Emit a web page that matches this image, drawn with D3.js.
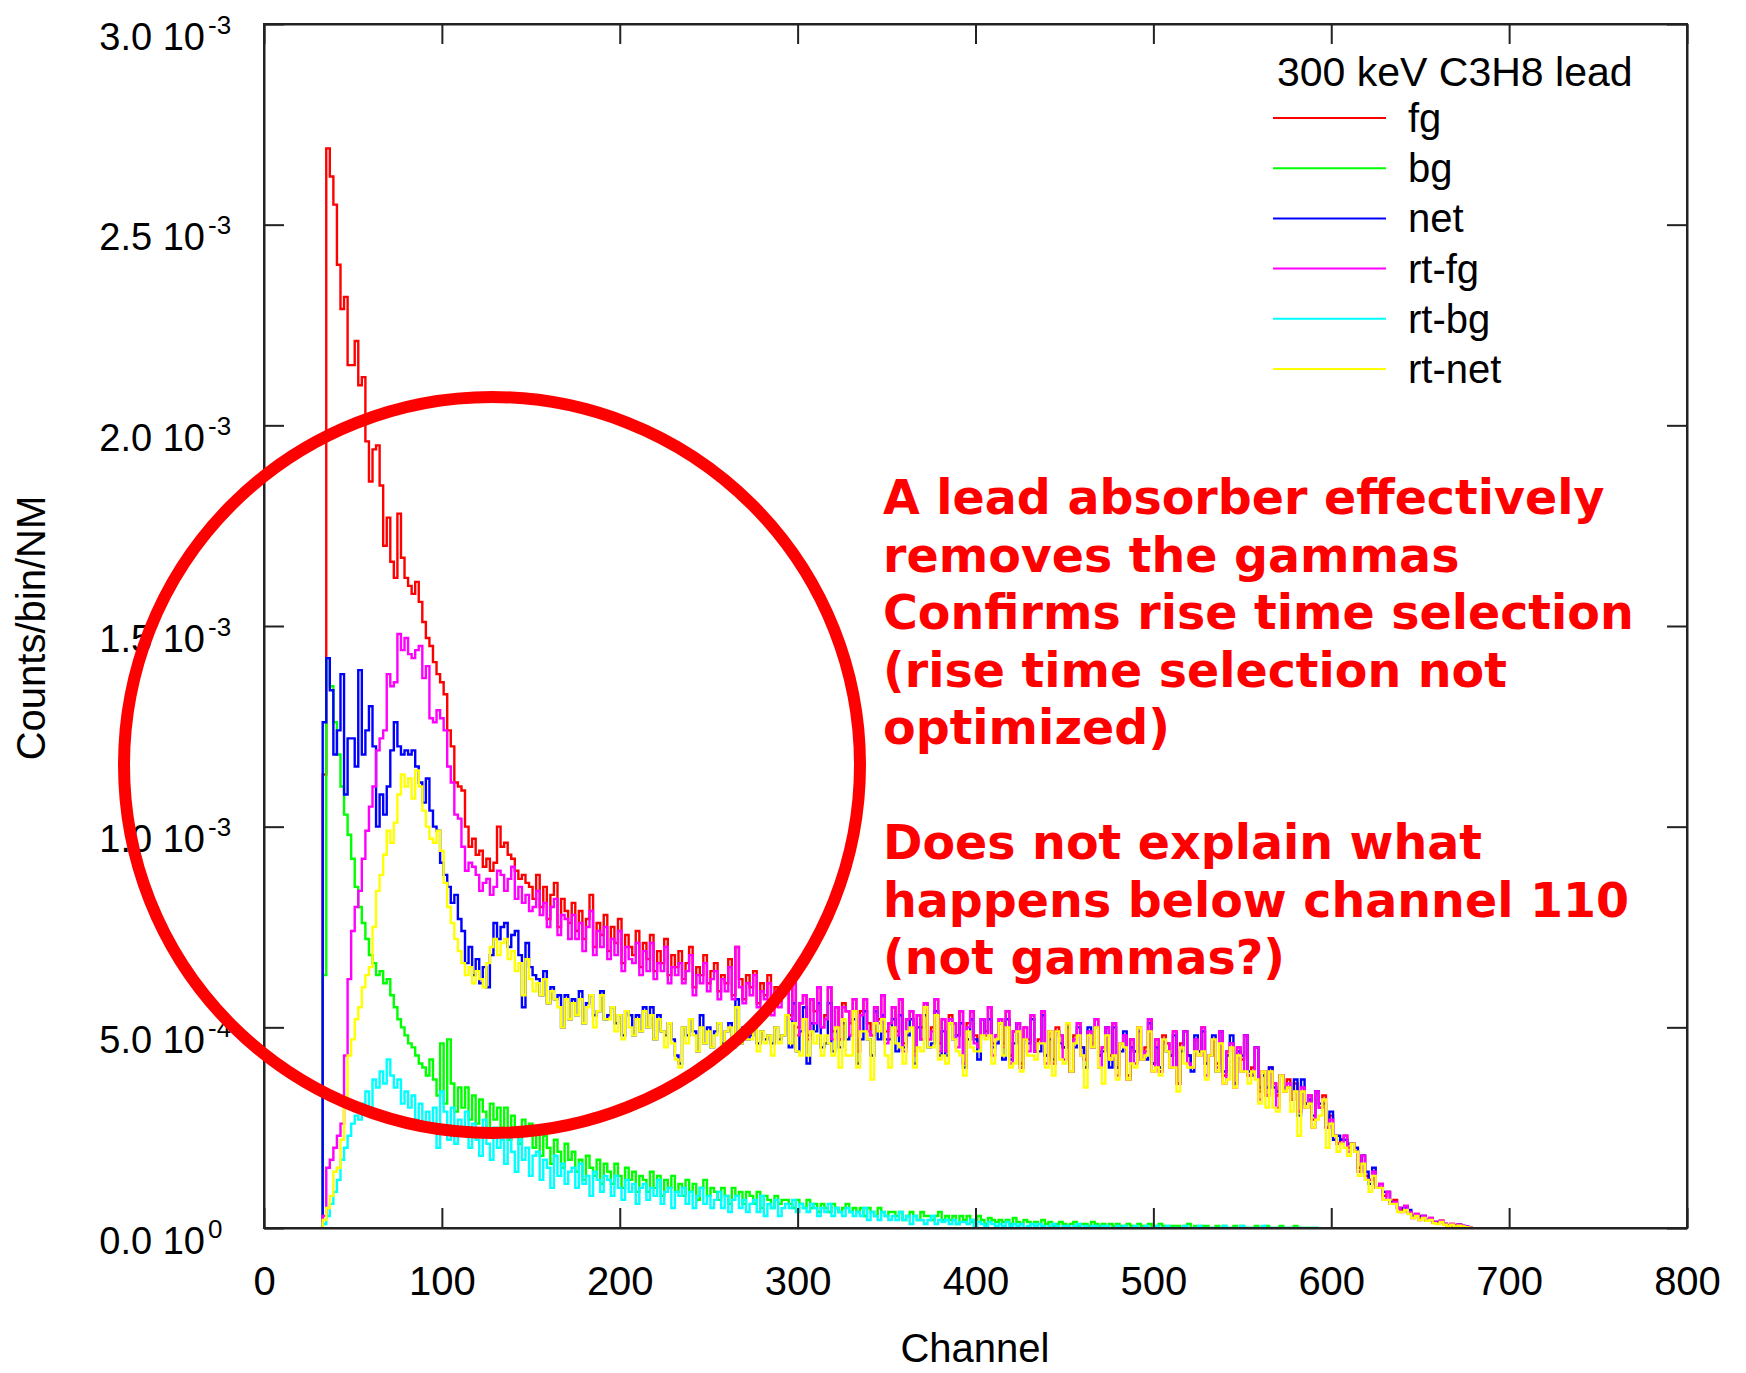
<!DOCTYPE html>
<html>
<head>
<meta charset="utf-8">
<script src="https://cdn.jsdelivr.net/npm/d3@7"></script>
<style>
  body { margin: 0; background: #fff; }
  svg { display: block; }
</style>
</head>
<body>
<div id="chart"></div>
<script>
// Histogram binning (channels) and value unit
const firstChannel = 33;
const binWidth = 2;
const yUnit = 1e-5; // values below are in units of 1e-5 counts/bin/NM

// fg
const fg = [
  113, 269, 262, 255, 240, 229, 232, 215, 215, 221,
  210, 212, 196, 186, 194, 195, 185, 170, 177, 166,
  162, 178, 167, 162, 160, 158, 161, 156, 151, 147,
  145, 141, 138, 136, 133, 124, 120, 111, 110, 109,
  100, 95, 97, 93, 94, 90, 92, 89, 91, 100,
  95, 96, 93, 92, 89, 87, 88, 86, 85, 82,
  88, 80, 85, 77, 83, 86, 75, 82, 79, 76,
  81, 74, 79, 72, 77, 83, 70, 76, 73, 78,
  69, 75, 71, 77, 66, 73, 70, 68, 74, 65,
  71, 67, 73, 64, 69, 66, 72, 63, 68, 65,
  69, 62, 66, 70, 60, 65, 63, 68, 61, 64,
  66, 59, 63, 61, 67, 58, 70, 62, 57, 63,
  60, 64, 56, 61, 58, 63, 55, 60, 57, 59,
  59, 53, 61, 50, 56, 58, 48, 57, 54, 60,
  50, 53, 60, 49, 55, 47, 56, 54, 51, 57,
  44, 54, 57, 51, 48, 55, 52, 58, 49, 51,
  55, 49, 57, 46, 52, 54, 44, 53, 50, 56,
  47, 50, 57, 46, 52, 44, 53, 51, 48, 54,
  41, 51, 54, 48, 45, 52, 49, 55, 46, 48,
  52, 46, 54, 43, 49, 51, 41, 50, 47, 53,
  44, 47, 54, 43, 49, 41, 50, 48, 45, 51,
  39, 48, 51, 45, 42, 49, 46, 52, 43, 45,
  50, 43, 51, 40, 46, 48, 38, 47, 44, 50,
  42, 45, 52, 41, 47, 39, 48, 46, 43, 49,
  36, 46, 49, 43, 40, 47, 44, 50, 41, 43,
  47, 41, 49, 38, 44, 46, 36, 45, 42, 48,
  38, 40, 45, 34, 39, 33, 40, 36, 33, 38,
  34, 37, 32, 36, 29, 35, 31, 33, 27, 34,
  30, 33, 25, 28, 23, 21, 22, 23, 20, 21,
  19, 15, 18, 13, 12, 14, 10, 11, 8, 9,
  6, 7, 5, 4.5, 5.5, 4, 3, 3.5, 2.5, 3,
  2, 2.5, 1.5, 1.2, 1.8, 1, 0.7, 1, 0.5, 0.8,
  0.5, 0.3, 0.2
];

// bg
const bg = [
  63, 142, 135, 126, 118, 110, 103, 98, 92, 85,
  80, 76, 72, 68, 66, 63, 64, 61, 62, 58,
  55, 52, 50, 48, 46, 45, 43, 41, 40, 38,
  42, 37, 33, 46, 31, 47, 36, 29, 35, 30,
  35, 27, 33, 26, 32, 29, 24, 31, 27, 30,
  25, 30, 22, 28, 24, 21, 27, 23, 26, 20,
  24, 18, 23, 20, 16, 22, 19, 15, 21, 17,
  19, 14, 17, 12, 18, 15, 13, 17, 11, 16,
  14, 11, 16, 13, 10, 15, 12, 14, 9, 13,
  12, 9, 14, 10, 13, 8, 12, 10, 13, 9,
  11, 8, 12, 9, 11, 7, 10, 12, 8, 10,
  9, 7, 10, 8, 6, 10, 8, 9, 6, 9,
  8, 6, 9, 5, 8, 7, 5, 8, 6, 7,
  7, 6, 5, 7, 6, 5, 7, 5, 6, 4,
  6, 5, 4, 6, 5, 4, 5, 6, 4, 5,
  4, 5, 3, 5, 4, 3, 5, 4, 3, 4,
  4, 3, 4, 2, 3, 4, 3, 2, 4, 3,
  3, 2, 3, 4, 2, 3, 2, 3, 1, 3,
  2, 3, 1.5, 2, 3, 2, 1, 2.5, 2, 1.5,
  2, 1.5, 2, 1, 2.5, 1.5, 1, 2, 1.5, 1,
  1.5, 1, 2, 1, 1.5, 0.5, 1, 1.5, 1, 0.5,
  1, 1.5, 0.5, 1, 1, 0.5, 1.5, 1, 0.5, 1,
  0.5, 1, 0.5, 1, 0.5, 0.5, 1, 0.5, 0, 1,
  0.5, 0.5, 1, 0, 0.5, 1, 0.5, 0, 0.5, 0.5,
  0.5, 0, 0.5, 1, 0, 0.5, 0, 0.5, 0.5, 0,
  0, 0.5, 0, 0.5, 0, 0, 0.5, 0, 0.5, 0,
  0, 0, 0.5, 0, 0, 0.5, 0, 0, 0, 0.5,
  0, 0, 0, 0.5, 0, 0, 0, 0, 0, 0
];

// net
const net = [
  126, 142, 134, 118, 124, 138, 108, 122, 122, 115,
  139, 118, 124, 130, 120, 100, 108, 103, 110, 119,
  126, 120, 118, 119, 118, 119, 115, 111, 106, 112,
  104, 100, 99, 91, 88, 85, 81, 83, 77, 74,
  66, 70, 63, 67, 61, 65, 60, 68, 76, 72,
  75, 76, 70, 73, 74, 68, 55, 71, 65, 63,
  62, 58, 64, 56, 60, 57, 58, 50, 58, 52,
  57, 53, 59, 51, 56, 58, 53, 54, 59, 52,
  53, 55, 51, 53, 48, 54, 53, 48, 53, 49,
  55, 50, 55, 47, 53, 49, 48, 51, 47, 43,
  41, 50, 48, 52, 49, 44, 53, 46, 50, 45,
  49, 51, 46, 49, 51, 45, 57, 46, 50, 47,
  48, 51, 46, 49, 47, 48, 46, 50, 47, 48,
  53, 45, 56, 44, 49, 55, 41, 51, 49, 56,
  45, 46, 56, 44, 49, 45, 51, 47, 48, 52,
  41, 47, 54, 47, 43, 54, 47, 53, 47, 47,
  52, 44, 53, 45, 48, 52, 41, 50, 47, 53,
  45, 46, 54, 43, 49, 43, 51, 47, 48, 51,
  40, 47, 52, 47, 42, 52, 48, 52, 45, 46,
  51, 42, 52, 42, 46, 51, 40, 47, 46, 52,
  44, 44, 53, 43, 47, 42, 49, 46, 45, 50,
  39, 45, 50, 45, 40, 50, 45, 50, 43, 44,
  50, 40, 50, 40, 44, 49, 37, 45, 44, 49,
  42, 42, 51, 41, 45, 40, 47, 44, 43, 48,
  36, 44, 49, 43, 39, 48, 44, 49, 41, 43,
  48, 39, 49, 39, 43, 48, 36, 44, 43, 48,
  39, 38, 45, 35, 38, 35, 40, 35, 34, 38,
  35, 35, 32, 37, 28, 37, 31, 32, 28, 34,
  31, 31, 25, 29, 22, 23, 22, 22, 21, 21,
  20, 14, 18, 14, 11, 15, 10, 10, 9, 9,
  6.5, 6, 5, 5, 5, 4.5, 3, 3, 3, 3,
  2, 2, 1.5, 1.5, 1.5, 1, 0.7, 0.8, 0.6, 0.8,
  0.5, 0.3, 0.2
];

// rt-fg
const rtFg = [
  3, 15, 17, 20, 23, 26, 43, 62, 74, 80,
  84, 92, 99, 105, 110, 119, 122, 124, 138, 135,
  136, 148, 144, 147, 143, 142, 144, 145, 137, 140,
  127, 126, 129, 127, 124, 115, 111, 103, 102, 95,
  89, 91, 90, 88, 84, 86, 87, 83, 85, 89,
  88, 84, 87, 90, 82, 85, 81, 83, 79, 80,
  84, 78, 81, 75, 80, 82, 73, 78, 77, 72,
  78, 72, 76, 69, 75, 79, 68, 74, 70, 75,
  67, 72, 68, 74, 64, 70, 67, 66, 71, 63,
  69, 64, 71, 62, 66, 64, 70, 61, 65, 63,
  66, 61, 64, 68, 58, 63, 61, 66, 59, 62,
  64, 57, 62, 59, 65, 57, 70, 60, 56, 61,
  58, 63, 55, 59, 57, 61, 53, 59, 55, 58,
  59, 52, 61, 48, 56, 58, 47, 57, 51, 60,
  50, 52, 60, 47, 55, 47, 55, 54, 48, 57,
  44, 53, 57, 49, 48, 55, 51, 58, 46, 51,
  55, 48, 57, 44, 52, 54, 43, 53, 47, 56,
  47, 49, 57, 44, 52, 44, 52, 51, 45, 54,
  41, 50, 54, 46, 45, 52, 48, 55, 43, 48,
  52, 45, 54, 41, 49, 51, 40, 50, 44, 53,
  44, 46, 54, 41, 49, 41, 49, 48, 42, 51,
  39, 47, 51, 43, 42, 49, 45, 52, 40, 45,
  50, 42, 51, 38, 46, 48, 37, 47, 41, 50,
  42, 44, 52, 39, 47, 39, 47, 46, 40, 49,
  36, 45, 49, 41, 40, 47, 43, 50, 38, 43,
  47, 40, 49, 36, 44, 46, 35, 45, 39, 48,
  38, 39, 45, 32, 39, 33, 39, 36, 30, 38,
  34, 36, 32, 34, 29, 35, 30, 33, 25, 34,
  30, 32, 25, 27, 23, 21, 21, 23, 19, 21,
  19, 14, 18, 12, 12, 14, 10, 11, 7, 9,
  6, 6.5, 5, 4, 5.5, 4, 2.5, 3.5, 2, 3,
  2, 2.5, 1.5, 1.2, 1.8, 1, 0.7, 1, 0.5, 0.8,
  0.5, 0.3, 0.2
];

// rt-bg
const rtBg = [
  1, 3, 6, 9, 12, 17, 20, 23, 26, 28,
  27, 31, 34, 30, 37, 35, 39, 36, 42, 38,
  35, 37, 31, 34, 30, 33, 27, 31, 25, 29,
  24, 30, 20, 34, 29, 22, 30, 21, 27, 23,
  29, 20, 26, 22, 18, 27, 21, 17, 25, 20,
  22, 16, 24, 19, 14, 22, 17, 20, 13, 18,
  19, 12, 17, 15, 10, 18, 13, 16, 11, 14,
  15, 10, 16, 11, 13, 8, 14, 12, 9, 13,
  12, 8, 13, 10, 7, 12, 9, 11, 6, 10,
  11, 7, 10, 8, 12, 6, 9, 10, 5, 9,
  8, 10, 6, 9, 5, 8, 10, 6, 8, 5,
  7, 9, 5, 8, 4, 7, 8, 5, 7, 4,
  6, 7, 4, 8, 3, 6, 5, 7, 3, 5,
  6, 5, 7, 4, 6, 5, 4, 6, 5, 3,
  5, 4, 6, 3, 5, 4, 3, 5, 4, 3,
  4, 3, 5, 2, 4, 3, 2, 4, 3, 2,
  3, 2, 4, 2, 3, 1, 3, 2, 2, 1,
  2, 3, 1, 2, 1.5, 2, 1, 2, 1, 1.5,
  1.5, 1, 2, 0.5, 1.5, 1, 0.5, 1.5, 1, 0.5,
  1, 0.5, 1.5, 0.5, 1, 0.5, 1, 0, 0.5, 1,
  0.5, 1, 0.5, 0, 0.5, 1, 0.5, 0, 0.5, 0.5,
  0, 0.5, 1, 0, 0.5, 0, 0.5, 0.5, 0, 0.5,
  0.5, 0, 0, 0.5, 0, 0.5, 0, 0, 0.5, 0,
  0, 0.5, 0, 0, 0.5, 0, 0, 0.5, 0, 0,
  0, 0, 0.5, 0, 0, 0, 0.5, 0, 0, 0,
  0, 0, 0, 0.5, 0, 0, 0, 0, 0.5, 0,
  0, 0, 0, 0, 0.5, 0, 0, 0, 0, 0,
  0, 0, 0, 0, 0, 0, 0, 0, 0, 0
];

// rt-net
const rtNet = [
  2, 5, 8, 14, 15, 22, 30, 43, 47, 52,
  55, 60, 63, 65, 75, 84, 88, 93, 99, 96,
  101, 108, 113, 110, 112, 107, 114, 110, 104, 100,
  97, 96, 99, 94, 86, 80, 76, 72, 69, 66,
  63, 65, 61, 64, 62, 60, 66, 70, 72, 68,
  71, 72, 67, 69, 64, 66, 58, 67, 62, 59,
  61, 58, 62, 56, 59, 57, 55, 50, 57, 52,
  56, 53, 57, 51, 55, 58, 50, 54, 58, 52,
  52, 55, 49, 53, 47, 54, 50, 48, 52, 49,
  54, 50, 53, 47, 52, 49, 45, 51, 46, 42,
  40, 50, 46, 52, 48, 44, 50, 46, 49, 45,
  48, 51, 44, 49, 50, 45, 55, 46, 49, 47,
  47, 51, 44, 49, 46, 48, 43, 50, 46, 48,
  53, 46, 51, 44, 43, 52, 43, 49, 46, 48,
  43, 48, 46, 43, 50, 40, 52, 43, 43, 54,
  40, 49, 49, 47, 37, 51, 49, 52, 43, 40,
  50, 46, 45, 41, 49, 50, 40, 45, 44, 55,
  45, 45, 53, 42, 43, 41, 51, 47, 44, 43,
  38, 49, 45, 44, 44, 48, 47, 48, 41, 47,
  51, 43, 50, 40, 41, 49, 39, 47, 43, 43,
  42, 46, 46, 40, 49, 38, 49, 42, 41, 51,
  39, 46, 48, 43, 35, 48, 45, 50, 40, 36,
  48, 42, 43, 37, 46, 45, 37, 41, 40, 50,
  42, 43, 49, 39, 40, 38, 47, 44, 40, 40,
  34, 45, 41, 40, 40, 44, 43, 44, 37, 43,
  47, 39, 46, 36, 37, 45, 35, 43, 39, 39,
  36, 39, 37, 31, 39, 30, 39, 30, 29, 38,
  34, 35, 29, 34, 23, 34, 30, 31, 25, 27,
  28, 32, 20, 26, 23, 19, 21, 20, 18, 21,
  19, 13, 16, 12, 9, 13, 10, 10, 7, 7,
  6, 6, 4, 4, 4.5, 3.5, 2.5, 3, 2, 2.5,
  1.8, 2, 1.2, 1, 1.5, 0.8, 0.5, 0.8, 0.4, 0.6,
  0.4, 0.2, 0.1
];

const seriesNames = ["fg", "bg", "net", "rt-fg", "rt-bg", "rt-net"];
const seriesColors = ["#ff0000", "#00ff00", "#0000ff", "#ff00ff", "#00ffff", "#ffff00"];
const seriesValues = [fg, bg, net, rtFg, rtBg, rtNet];
const legendTitle = "300 keV C3H8 lead";

const xTicks = [0, 100, 200, 300, 400, 500, 600, 700, 800];
const yTicks = [0, 5e-4, 1e-3, 1.5e-3, 2e-3, 2.5e-3, 3e-3];
const yTickMantissa = ["0.0", "5.0", "1.0", "1.5", "2.0", "2.5", "3.0"];
const yTickExponent = ["0", "-4", "-3", "-3", "-3", "-3", "-3"];

const noteLines = [
  "A lead absorber effectively",
  "removes the gammas",
  "Confirms rise time selection",
  "(rise time selection not",
  "optimized)",
  "",
  "Does not explain what",
  "happens below channel 110",
  "(not gammas?)"
];

// Layout
const width = 1746;
const height = 1373;
const margin = {top: 24, right: 59, bottom: 145, left: 264};
const axisFont = "'Liberation Sans', Arial, sans-serif";

const svg = d3.select("#chart")
  .append("svg")
  .attr("width", width)
  .attr("height", height)
  .style("background", "#fff");

const x = d3.scaleLinear()
  .domain([0, 800])
  .range([margin.left, width - margin.right]);

const y = d3.scaleLinear()
  .domain([0, 3e-3])
  .range([height - margin.bottom, margin.top]);

svg.append("clipPath")
  .attr("id", "plot-clip")
  .append("rect")
  .attr("x", margin.left)
  .attr("y", margin.top)
  .attr("width", x.range()[1] - margin.left)
  .attr("height", y.range()[0] - margin.top);

// Step histograms
const line = d3.line()
  .x(d => x(d[0]))
  .y(d => y(d[1] * yUnit))
  .curve(d3.curveStepAfter);

const plot = svg.append("g").attr("clip-path", "url(#plot-clip)");

seriesValues.forEach((vals, s) => {
  const pts = [[firstChannel, 0]];
  vals.forEach((v, i) => pts.push([firstChannel + i * binWidth, v]));
  pts.push([firstChannel + vals.length * binWidth, 0]);
  plot.append("path")
    .attr("d", line(pts))
    .attr("fill", "none")
    .attr("stroke", seriesColors[s])
    .attr("stroke-width", 2.4)
    .attr("stroke-linejoin", "miter");
});

// Axes with inward ticks on all four sides
const axisColor = "#222";

const bottom = svg.append("g")
  .attr("transform", `translate(0,${y.range()[0]})`)
  .call(d3.axisBottom(x).tickValues(xTicks).tickSizeInner(-20).tickSizeOuter(0));
bottom.selectAll("text")
  .attr("y", 67)
  .attr("dy", null)
  .style("font-family", axisFont)
  .style("font-size", "40px")
  .attr("fill", "#000");

svg.append("g")
  .attr("transform", `translate(0,${margin.top})`)
  .call(d3.axisTop(x).tickValues(xTicks).tickSizeInner(-20).tickSizeOuter(0).tickFormat(""));

const left = svg.append("g")
  .attr("transform", `translate(${margin.left},0)`)
  .call(d3.axisLeft(y).tickValues(yTicks).tickSizeInner(-20).tickSizeOuter(0).tickFormat(""));

left.selectAll(".tick").each(function(d, i) {
  const g = d3.select(this);
  g.append("text")
    .attr("x", -59)
    .attr("y", 25)
    .attr("text-anchor", "end")
    .attr("fill", "#000")
    .style("font-family", axisFont)
    .style("font-size", "38px")
    .text(yTickMantissa[i] + " 10");
  g.append("text")
    .attr("x", -56)
    .attr("y", 9)
    .attr("text-anchor", "start")
    .attr("fill", "#000")
    .style("font-family", axisFont)
    .style("font-size", "26px")
    .text(yTickExponent[i]);
});

svg.append("g")
  .attr("transform", `translate(${x.range()[1]},0)`)
  .call(d3.axisRight(y).tickValues(yTicks).tickSizeInner(-20).tickSizeOuter(0).tickFormat(""));

svg.selectAll(".domain, .tick line")
  .attr("stroke", axisColor)
  .attr("stroke-width", 2);

svg.append("rect")
  .attr("x", margin.left)
  .attr("y", margin.top)
  .attr("width", x.range()[1] - margin.left)
  .attr("height", y.range()[0] - margin.top)
  .attr("fill", "none")
  .attr("stroke", axisColor)
  .attr("stroke-width", 2);

// Axis titles
svg.append("text")
  .attr("x", 975)
  .attr("y", 1362)
  .attr("text-anchor", "middle")
  .style("font-family", axisFont)
  .style("font-size", "40px")
  .text("Channel");

svg.append("text")
  .attr("transform", "translate(45,628) rotate(-90)")
  .attr("text-anchor", "middle")
  .style("font-family", axisFont)
  .style("font-size", "40px")
  .text("Counts/bin/NM");

// Legend
const legend = svg.append("g");
legend.append("text")
  .attr("x", 1277)
  .attr("y", 86)
  .style("font-family", axisFont)
  .style("font-size", "41px")
  .text(legendTitle);

seriesNames.forEach((name, i) => {
  const ly = 118 + i * 50.2;
  legend.append("line")
    .attr("x1", 1273).attr("x2", 1386)
    .attr("y1", ly).attr("y2", ly)
    .attr("stroke", seriesColors[i])
    .attr("stroke-width", 2);
  legend.append("text")
    .attr("x", 1408)
    .attr("y", ly + 14)
    .style("font-family", axisFont)
    .style("font-size", "40px")
    .text(name);
});

// Annotation: circle and red note
svg.append("circle")
  .attr("cx", 492)
  .attr("cy", 765)
  .attr("r", 368)
  .attr("fill", "none")
  .attr("stroke", "#ff0000")
  .attr("stroke-width", 12);

const note = svg.append("text")
  .attr("fill", "#ff0000")
  .style("font-family", "'DejaVu Sans', Verdana, sans-serif")
  .style("font-weight", "bold")
  .style("font-size", "47.5px");

noteLines.forEach((t, i) => {
  note.append("tspan")
    .attr("x", 883)
    .attr("y", 514 + i * 57.5)
    .text(t);
});
</script>
</body>
</html>
